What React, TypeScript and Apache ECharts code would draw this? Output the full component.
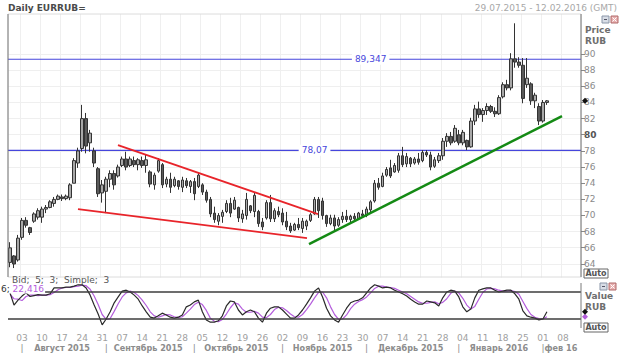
import React, { useEffect, useRef } from "react";
import * as echarts from "echarts";

const FONT = "DejaVu Sans";
const FONT_C = "'DejaVu Sans Condensed', 'DejaVu Sans'";

// Trading days (weekdays) shown on the axis: 29.07.2015 - 12.02.2016
const dates: string[] = [];
{
  const d = new Date(Date.UTC(2015, 6, 29));
  const end = Date.UTC(2016, 1, 12);
  while (d.getTime() <= end) {
    const wd = d.getUTCDay();
    if (wd !== 0 && wd !== 6) dates.push(d.toISOString().slice(0, 10));
    d.setUTCDate(d.getUTCDate() + 1);
  }
}

const openP = [
  64.2, 65.0, 64.5, 67.3, 69.4, 68.5, 69.3, 69.8, 69.8, 70.8, 71.0, 71.5, 72.0, 72.3, 72.1, 72.2, 74.0, 76.5, 78.3, 82.0,
  79.0, 78.0, 75.8, 72.8, 73.0, 74.5, 75.2, 74.9, 76.2, 77.0, 76.2, 76.8, 76.3, 76.8, 76.2, 75.4, 73.8, 75.5, 76.3, 73.9,
  74.5, 73.7, 74.3, 73.5, 74.3, 73.6, 74.2, 73.6, 73.8, 72.9, 72.0, 70.3, 69.3, 69.9, 70.5, 71.5, 70.8, 71.0, 69.6, 70.0,
  71.2, 70.5, 70.5, 69.2, 69.7, 71.6, 69.6, 70.5, 70.3, 69.3, 68.7, 68.2, 68.9, 68.4, 68.7, 69.4, 70.2, 72.0, 71.8, 70.0,
  69.0, 69.7, 68.8, 69.5, 69.9, 69.5, 69.9, 69.6, 70.2, 70.0, 70.7, 71.8, 74.0, 73.6, 75.0, 75.9, 75.4, 75.6, 77.4, 76.4,
  77.1, 76.5, 77.0, 76.8, 77.8, 77.5, 76.1, 76.8, 77.4, 79.2, 79.8, 79.2, 80.0, 79.0, 79.3, 78.5, 81.7, 83.2, 82.5, 83.0,
  83.5, 82.9, 82.6, 84.7, 86.2, 85.8, 89.4, 89.0, 88.6, 86.2, 86.3, 84.2, 83.5, 81.7, 84.0,
];
const highP = [
  66.7, 65.1, 67.6, 69.7, 69.8, 68.6, 70.4, 70.9, 71.1, 71.3, 71.9, 72.3, 72.6, 72.6, 72.6, 74.0, 77.1, 78.4, 83.7, 82.7,
  80.6, 78.4, 76.0, 74.4, 74.8, 75.6, 75.6, 76.3, 77.3, 77.9, 77.3, 77.3, 77.1, 77.3, 77.5, 75.6, 75.3, 77.1, 76.5, 74.8,
  75.3, 74.8, 74.4, 74.8, 74.65, 74.4, 74.65, 75.3, 74.0, 73.2, 72.3, 71.1, 70.3, 70.7, 71.9, 72.2, 72.3, 71.1, 70.7, 72.8,
  71.3, 72.9, 70.7, 69.7, 71.9, 72.55, 70.9, 71.1, 70.9, 70.45, 69.1, 69.1, 69.7, 69.7, 69.5, 70.3, 72.3, 72.3, 72.2, 70.1,
  70.1, 70.1, 69.8, 70.45, 70.7, 70.1, 70.3, 70.45, 70.7, 71.1, 71.9, 74.4, 74.65, 75.3, 76.0, 76.9, 76.5, 77.75, 78.5, 77.75,
  77.25, 77.25, 77.75, 78.1, 78.1, 77.9, 77.25, 77.75, 79.6, 80.2, 80.35, 81.2, 80.6, 80.6, 79.4, 82.1, 83.7, 84.1, 83.3, 83.9,
  83.7, 83.4, 84.9, 86.5, 86.8, 90.1, 93.8, 89.6, 89.5, 89.5, 86.5, 85.2, 83.9, 84.3, 84.3,
];
const lowP = [
  63.6, 63.5, 64.3, 67.0, 68.5, 67.6, 69.1, 69.5, 69.1, 70.3, 70.9, 71.1, 71.9, 71.8, 71.9, 71.9, 74.0, 75.9, 77.9, 77.7,
  77.9, 76.0, 72.3, 71.6, 70.3, 73.5, 73.2, 74.7, 76.0, 75.6, 76.0, 76.0, 75.6, 75.9, 75.3, 73.5, 73.2, 75.3, 73.4, 73.5,
  72.8, 73.5, 73.2, 72.9, 73.4, 72.8, 71.9, 73.4, 72.55, 71.6, 69.8, 69.1, 68.8, 69.1, 70.3, 69.8, 70.7, 69.2, 69.1, 69.5,
  70.3, 69.8, 68.6, 68.2, 69.5, 69.2, 69.2, 69.8, 68.8, 68.2, 67.85, 68.1, 68.2, 67.85, 68.2, 69.2, 70.1, 69.7, 69.5, 68.6,
  68.8, 68.2, 68.6, 69.1, 69.2, 69.2, 69.2, 69.5, 69.7, 69.8, 70.3, 71.6, 73.2, 73.5, 74.8, 74.65, 75.3, 75.3, 76.0, 76.0,
  76.0, 76.3, 76.3, 76.6, 77.25, 75.6, 75.9, 76.5, 76.9, 78.5, 78.7, 79.0, 78.7, 78.7, 78.1, 78.4, 81.2, 82.1, 81.6, 82.45,
  82.7, 82.2, 82.45, 84.5, 85.5, 85.5, 88.3, 88.3, 83.9, 85.8, 83.7, 83.3, 81.2, 81.5, 83.7,
];
const closeP = [
  66.0, 64.0, 67.2, 69.4, 68.8, 67.9, 70.2, 70.6, 70.8, 71.0, 71.7, 72.0, 72.4, 72.1, 72.4, 73.8, 76.8, 78.0, 82.0, 78.6,
  80.2, 76.5, 72.7, 73.8, 74.5, 75.2, 73.8, 76.0, 77.0, 76.0, 77.0, 76.3, 76.9, 76.2, 76.9, 73.9, 75.0, 76.8, 73.8, 74.5,
  73.5, 74.5, 73.6, 74.4, 73.7, 74.2, 72.7, 75.0, 72.9, 71.9, 70.2, 69.5, 70.0, 70.4, 71.5, 70.3, 71.9, 69.7, 70.2, 72.0,
  70.6, 72.5, 69.0, 68.6, 71.6, 69.6, 70.6, 70.1, 69.2, 68.6, 68.1, 68.9, 68.5, 69.3, 69.3, 70.1, 72.0, 70.6, 70.0, 69.0,
  69.7, 68.7, 69.5, 69.9, 69.5, 69.9, 69.6, 70.3, 70.0, 70.8, 71.7, 74.0, 73.5, 74.9, 75.7, 74.9, 76.2, 77.4, 76.3, 77.3,
  76.4, 77.0, 76.6, 77.8, 77.5, 76.0, 76.9, 77.4, 79.2, 79.8, 79.0, 80.8, 79.0, 80.3, 78.5, 81.7, 83.2, 82.5, 83.0, 83.5,
  82.9, 82.6, 84.6, 86.2, 85.8, 89.4, 89.0, 88.6, 84.5, 87.0, 84.2, 84.9, 81.7, 84.0, 84.2,
];

// Stochastic (5;3;3)
const stochK = [
  78, 51, 62, 71, 78, 70, 72, 74, 73, 73, 76, 89, 89, 89, 91, 91, 93, 96, 96, 89,
  73, 51, 31, 7, 20, 36, 56, 69, 82, 84, 80, 73, 64, 49, 36, 24, 22, 27, 33, 29,
  24, 22, 24, 29, 47, 51, 58, 62, 36, 18, 13, 13, 16, 27, 49, 60, 58, 40, 29, 36,
  40, 36, 22, 13, 33, 44, 47, 47, 40, 31, 22, 22, 29, 40, 53, 67, 82, 89, 69, 44,
  27, 18, 13, 29, 44, 56, 60, 62, 67, 78, 89, 96, 93, 89, 91, 89, 84, 80, 76, 71,
  64, 58, 53, 53, 60, 58, 56, 49, 67, 80, 84, 82, 69, 47, 36, 42, 67, 84, 87, 89,
  89, 84, 80, 82, 84, 84, 76, 64, 38, 27, 24, 22, 18, 20, 36,
];
const stochD = [
  75, 65, 64, 61, 70, 73, 73, 72, 73, 73, 74, 79, 85, 89, 90, 90, 92, 93, 95, 94,
  86, 71, 52, 30, 19, 21, 37, 54, 69, 78, 82, 79, 72, 62, 50, 36, 27, 24, 27, 30,
  29, 25, 23, 25, 33, 42, 52, 57, 52, 39, 22, 15, 14, 19, 31, 45, 56, 53, 42, 35,
  35, 37, 33, 24, 23, 30, 41, 46, 45, 39, 31, 25, 24, 30, 41, 53, 67, 79, 80, 67,
  47, 30, 19, 20, 29, 43, 53, 59, 63, 69, 78, 88, 93, 93, 91, 90, 88, 84, 80, 76,
  70, 64, 58, 55, 55, 57, 58, 54, 57, 65, 77, 82, 78, 66, 51, 42, 48, 64, 79, 87,
  88, 87, 84, 82, 82, 83, 81, 75, 59, 43, 30, 24, 21, 20, 25,
];

// Horizontal levels and drawn trend lines (x in bar units, y in price)
const levels = [89.347, 78.07];
const levelLabels = ["89,347", "78,07"];
const levelLabelBars = [90, 76];
const redUpper = [[26.95, 78.72], [76.86, 70.18]];
const redLower = [[16.97, 70.8], [74.12, 67.21]];
const greenTrend = [[74.62, 66.46], [137.76, 82.31]];

const monthNames = ["Август 2015", "Сентябрь 2015", "Октябрь 2015", "Ноябрь 2015", "Декабрь 2015", "Январь 2016", "фев 16"];

const priceTicks = { min: 64, max: 90, step: 2 };

const BLUE = "#4646dc";
const PURPLE = "#b45ddc";

export default function App() {
  const ref = useRef<HTMLDivElement>(null);
  useEffect(() => {
    const chart = echarts.init(ref.current!, null, { renderer: "svg" });

    const starts: number[] = [];
    const ends: number[] = [];
    dates.forEach((d, i) => {
      if (i === 0 || d.slice(0, 7) !== dates[i - 1].slice(0, 7)) {
        if (i > 0) ends.push(i - 1);
        starts.push(i);
      }
    });
    ends.push(dates.length - 1);
    const mStarts = starts.slice(1);
    const mEnds = ends.slice(1);

    const candleData = openP.map((o, i) => [o, closeP[i], lowP[i], highP[i]]);
    const n = dates.length;

    const left = 8;
    const right = 42;

    const levelSeries = levels.map((v, k) => ({
      type: "line", xAxisIndex: 2, yAxisIndex: 0, z: 3,
      data: [[-0.5, v], [n - 0.5, v]], symbol: "none", silent: true,
      lineStyle: { color: BLUE, width: 1.2, type: "solid" },
      itemStyle: { color: BLUE },
      markPoint: {
        symbol: "rect", symbolSize: [1, 1], itemStyle: { color: "rgba(0,0,0,0)" },
        label: {
          show: true, position: "inside", color: BLUE, fontSize: 9, fontFamily: FONT,
          backgroundColor: "#ffffff", padding: [1, 3],
          formatter: () => levelLabels[k],
        },
        data: [{ coord: [levelLabelBars[k], v] }],
      },
    }));

    const option: any = {
      animation: false,
      backgroundColor: "#ffffff",
      textStyle: { fontFamily: FONT },
      grid: [
        { left, right, top: 14, height: 263.5 },
        { left, right, top: 283, height: 45 },
        { left, right, top: 53.9, height: 210 },
      ],
      xAxis: [
        {
          type: "category", gridIndex: 0, data: dates, boundaryGap: true,
          axisLine: { show: false }, axisTick: { show: false }, axisLabel: { show: false },
          splitLine: {
            show: true,
            interval: (i: number, v: string) => new Date(v).getUTCDay() === 1,
            lineStyle: { color: "#efefef", width: 1 },
          },
        },
        {
          type: "category", gridIndex: 1, data: dates, boundaryGap: true, position: "bottom",
          axisLine: { show: false }, axisTick: { show: false },
          axisLabel: {
            interval: (i: number, v: string) => new Date(v).getUTCDay() === 1,
            formatter: (v: string) => v.slice(8, 10),
            color: "#a0a0a0", fontSize: 9, fontFamily: FONT, margin: 5,
          },
          splitLine: { show: false },
        },
        { type: "value", gridIndex: 0, min: -0.5, max: n - 0.5, show: false },
        { type: "category", gridIndex: 2, data: dates, show: false },
      ],
      yAxis: [
        { type: "value", gridIndex: 0, min: 62.33, max: 94.95, show: false, scale: true },
        { type: "value", gridIndex: 1, min: 0, max: 100, show: false },
        {
          type: "value", gridIndex: 2, position: "right", min: priceTicks.min, max: priceTicks.max, interval: priceTicks.step,
          axisLine: { show: false },
          axisTick: { show: true, length: 4, lineStyle: { color: "#888" } },
          axisLabel: {
            color: "#8a8a8a", fontSize: 9, fontFamily: FONT, margin: 3,
            formatter: (v: number) => (v === 80 ? "{b|80}" : String(v)),
            rich: { b: { fontWeight: "bold", color: "#555", fontSize: 9, fontFamily: FONT } },
          },
          splitLine: { show: true, lineStyle: { color: "#efefef" } },
        },
      ],
      series: [
        ...levelSeries,
        {
          type: "candlestick", xAxisIndex: 0, yAxisIndex: 0, data: candleData, barWidth: 3, z: 4,
          itemStyle: { color: "#a8a8a8", color0: "#5a5a5a", borderColor: "#333333", borderColor0: "#333333", borderWidth: 1 },
        },
        { type: "line", xAxisIndex: 2, yAxisIndex: 0, z: 5, data: redUpper, symbol: "none", lineStyle: { color: "#e8242a", width: 1.8 } },
        { type: "line", xAxisIndex: 2, yAxisIndex: 0, z: 5, data: redLower, symbol: "none", lineStyle: { color: "#e8242a", width: 1.8 } },
        { type: "line", xAxisIndex: 2, yAxisIndex: 0, z: 5, data: greenTrend, symbol: "none", lineStyle: { color: "#148a14", width: 2.5 } },
        { type: "line", xAxisIndex: 1, yAxisIndex: 1, data: stochD, symbol: "none", lineStyle: { color: PURPLE, width: 1.2 } },
        {
          type: "line", xAxisIndex: 1, yAxisIndex: 1, data: stochK, symbol: "none",
          lineStyle: { color: "#2a2a2a", width: 1.2 },
          markLine: {
            silent: true, symbol: ["none", "none"], label: { show: false },
            lineStyle: { color: "#3c3c3c", width: 1.5, type: "solid" },
            data: [{ yAxis: 20 }, { yAxis: 80 }],
          },
        },
      ],
    };
    chart.setOption(option);

    const px = (i: number) => chart.convertToPixel({ xAxisIndex: 1 }, dates[i]) as number;
    const lastPriceY = chart.convertToPixel({ yAxisIndex: 0 }, closeP[closeP.length - 1]) as number;
    const lastKY = chart.convertToPixel({ yAxisIndex: 1 }, stochK[stochK.length - 1]) as number;
    const lastDY = chart.convertToPixel({ yAxisIndex: 1 }, stochD[stochD.length - 1]) as number;
    const ax = 623 - right;

    const monthTexts: any[] = [];
    mStarts.forEach((s, k) => {
      monthTexts.push({ type: "text", x: px(s), y: 348, style: { text: "|", fontSize: 9, fontFamily: FONT, fill: "#8c8c8c", align: "center", verticalAlign: "middle" } });
      monthTexts.push({
        type: "text", x: (px(s) + px(mEnds[k])) / 2, y: 348,
        style: { text: monthNames[k], fontSize: 9, fontWeight: "bold", fontFamily: FONT_C, fill: "#8c8c8c", align: "center", verticalAlign: "middle" },
      });
    });

    const icon = (x: number, y: number) => [
      { type: "rect", shape: { x, y, width: 7, height: 7 }, style: { fill: "#d8dde6", stroke: "#8a96a8", lineWidth: 1 } },
      { type: "rect", shape: { x: x + 2, y: y + 3, width: 3, height: 1 }, style: { fill: "#556" } },
      { type: "rect", shape: { x: x + 9, y, width: 7, height: 7 }, style: { fill: "#e8b0b0", stroke: "#b06a6a", lineWidth: 1 } },
      { type: "line", shape: { x1: x + 10.5, y1: y + 1.5, x2: x + 14.5, y2: y + 5.5 }, style: { stroke: "#fff", lineWidth: 1 } },
      { type: "line", shape: { x1: x + 14.5, y1: y + 1.5, x2: x + 10.5, y2: y + 5.5 }, style: { stroke: "#fff", lineWidth: 1 } },
    ];
    const autoBox = (y: number) => [
      { type: "rect", shape: { x: 584, y, width: 24, height: 9 }, style: { fill: "#fff", stroke: "#666", lineWidth: 1 } },
      { type: "text", x: 596, y: y + 4.5, style: { text: "Auto", fontSize: 8, fontWeight: "bold", fontFamily: FONT, fill: "#555", align: "center", verticalAlign: "middle" } },
    ];

    chart.setOption({
      graphic: [
        { type: "rect", shape: { x: left, y: 14, width: ax - left, height: 263 }, style: { fill: "none", stroke: "#dcdcdc", lineWidth: 1 }, z: 0 },
        { type: "line", shape: { x1: ax, y1: 14, x2: ax, y2: 277 }, style: { stroke: "#7a7a7a", lineWidth: 1 }, z: 5 },
        { type: "line", shape: { x1: left, y1: 14, x2: left, y2: 277 }, style: { stroke: "#7a7a7a", lineWidth: 1 }, z: 5 },
        { type: "line", shape: { x1: ax, y1: 283, x2: ax, y2: 328 }, style: { stroke: "#7a7a7a", lineWidth: 1 }, z: 5 },
        { type: "text", x: 8, y: 8, style: { text: "Daily EURRUB=", fontSize: 9, fontWeight: "bold", fontFamily: FONT, fill: "#4a4a4a", verticalAlign: "middle" } },
        { type: "text", x: 617, y: 8, style: { text: "29.07.2015 - 12.02.2016 (GMT)", fontSize: 9, fontFamily: FONT, fill: "#a8a8a8", align: "right", verticalAlign: "middle" } },
        { type: "text", x: 585, y: 30, style: { text: "Price", fontSize: 9, fontWeight: "bold", fontFamily: FONT, fill: "#6e6e6e", verticalAlign: "middle" } },
        { type: "text", x: 585, y: 41, style: { text: "RUB", fontSize: 9, fontWeight: "bold", fontFamily: FONT, fill: "#6e6e6e", verticalAlign: "middle" } },
        ...icon(602, 16),
        ...autoBox(269),
        { type: "polygon", shape: { points: [[ax + 1, lastPriceY], [ax + 4, lastPriceY - 3], [ax + 7, lastPriceY], [ax + 4, lastPriceY + 3]] }, style: { fill: "#111" }, z: 10 },
        { type: "text", x: 585, y: 296, style: { text: "Value", fontSize: 9, fontWeight: "bold", fontFamily: FONT, fill: "#6e6e6e", verticalAlign: "middle" } },
        { type: "text", x: 585, y: 307, style: { text: "RUB", fontSize: 9, fontWeight: "bold", fontFamily: FONT, fill: "#6e6e6e", verticalAlign: "middle" } },
        ...icon(600, 283),
        ...autoBox(323),
        { type: "polygon", shape: { points: [[ax + 1, lastDY], [ax + 4, lastDY - 3], [ax + 7, lastDY], [ax + 4, lastDY + 3]] }, style: { fill: PURPLE }, z: 10 },
        { type: "polygon", shape: { points: [[ax + 1, lastKY], [ax + 4, lastKY - 3], [ax + 7, lastKY], [ax + 4, lastKY + 3]] }, style: { fill: "#111" }, z: 10 },
        { type: "text", x: 12, y: 280, style: { text: "Bid;  5;  3;  Simple;  3", fontSize: 9, fontFamily: FONT, fill: "#555", verticalAlign: "middle" }, z: 20 },
        {
          type: "text", x: 0, y: 289, z: 20,
          style: {
            text: "{k|6;} {d|22,416}", fontSize: 9, fontFamily: FONT, verticalAlign: "middle",
            backgroundColor: "#fff", padding: [0, 1],
            rich: { k: { fill: "#333", fontSize: 9, fontFamily: FONT }, d: { fill: PURPLE, fontSize: 9, fontFamily: FONT } },
          },
        },
        ...monthTexts,
      ],
    });

    return () => chart.dispose();
  }, []);
  return <div ref={ref} style={{ position: "fixed", left: 0, top: 0, width: 623, height: 354 }} />;
}
